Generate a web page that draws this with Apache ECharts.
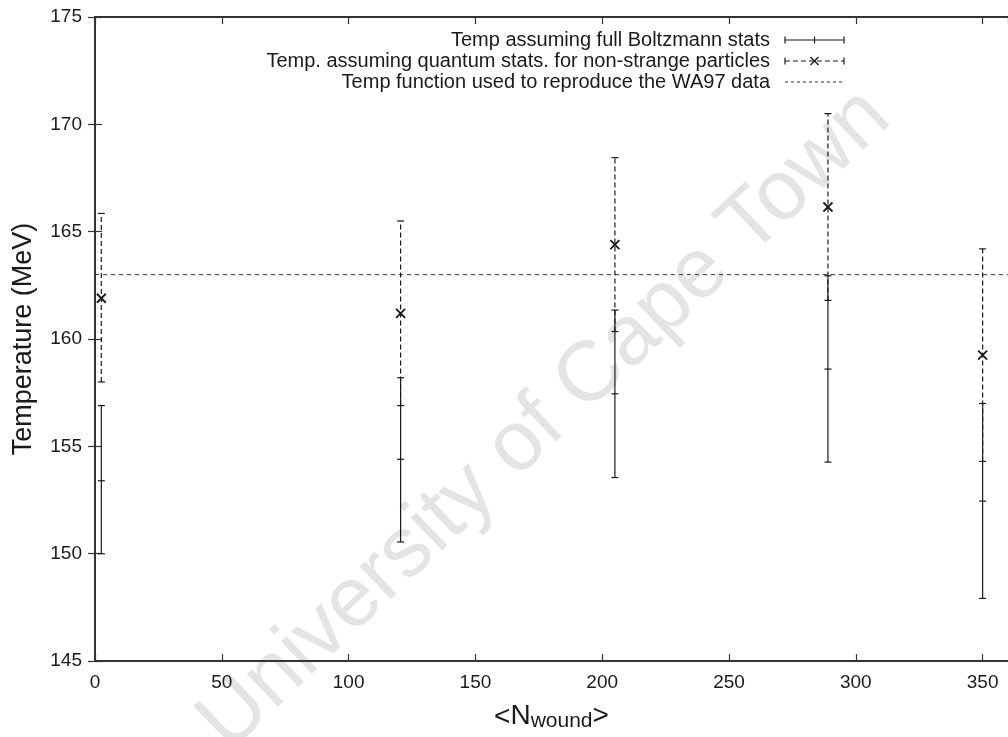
<!DOCTYPE html>
<html><head><meta charset="utf-8">
<script src="https://cdn.jsdelivr.net/npm/echarts@6/dist/echarts.min.js"></script>
<style>html,body{margin:0;padding:0;background:#fff}#c{width:1008px;height:737px}</style>
</head><body><div id="c"></div>
<script>
// ---- data ----
const nWound      = [2.5, 120.5, 205, 289, 350];
const boltzTemp   = [153.4, 154.4, 157.45, 158.6, 152.45];
const boltzLow    = [150.0, 150.55, 153.55, 154.27, 147.92];
const boltzHigh   = [156.9, 158.2, 161.35, 162.95, 157.0];
const quantTemp   = [161.9, 161.2, 164.4, 166.15, 159.25];
const quantLow    = [158.0, 156.9, 160.35, 161.8, 154.3];
const quantHigh   = [165.85, 165.5, 168.45, 170.5, 164.2];
const wa97X       = [0, 360];
const wa97Temp    = [163, 163];
const legendNames = [
  'Temp assuming full Boltzmann stats',
  'Temp. assuming quantum stats. for non-strange particles',
  'Temp function used to reproduce the WA97 data'
];
const xRange = [0, 360], xStep = 50;
const yRange = [145, 175], yStep = 5;

const FONT = '"Liberation Sans", Arial, Helvetica, sans-serif';
const INK = '#1a1a1a';

function errSeries(name, lo, hi, c, dashed, marker) {
  return {
    type: 'custom', name, xAxisIndex: 0, yAxisIndex: 0, z: 5,
    data: nWound.map((x, i) => [x, lo[i], hi[i], c[i]]),
    encode: { x: 0, y: [1, 2, 3] },
    renderItem: function (params, api) {
      const x = api.value(0);
      const pl = api.coord([x, api.value(1)]);
      const ph = api.coord([x, api.value(2)]);
      const pc = api.coord([x, api.value(3)]);
      const cw = 3.5;
      const s = { stroke: INK, lineWidth: 1.2 };
      const sd = dashed ? { stroke: INK, lineWidth: 1.2, lineDash: [5, 3] } : s;
      const ch = [
        { type: 'line', shape: { x1: pl[0], y1: pl[1], x2: ph[0], y2: ph[1] }, style: sd },
        { type: 'line', shape: { x1: pl[0] - cw, y1: pl[1], x2: pl[0] + cw, y2: pl[1] }, style: s },
        { type: 'line', shape: { x1: ph[0] - cw, y1: ph[1], x2: ph[0] + cw, y2: ph[1] }, style: s }
      ];
      if (marker === 'plus') {
        ch.push({ type: 'line', shape: { x1: pc[0] - cw, y1: pc[1], x2: pc[0] + cw, y2: pc[1] }, style: s });
      } else {
        const m = 4.5, sx = { stroke: INK, lineWidth: 1.8 };
        ch.push({ type: 'line', shape: { x1: pc[0] - m, y1: pc[1] - m, x2: pc[0] + m, y2: pc[1] + m }, style: sx });
        ch.push({ type: 'line', shape: { x1: pc[0] - m, y1: pc[1] + m, x2: pc[0] + m, y2: pc[1] - m }, style: sx });
      }
      return { type: 'group', children: ch };
    }
  };
}

const axisLine = { show: true, lineStyle: { color: '#333', width: 2 } };
const tickIn = { show: true, inside: true, length: 7, lineStyle: { color: '#333', width: 1.2 } };
const lblStyle = { color: INK, fontFamily: FONT, fontSize: 19 };

// legend layout
const lgRight = 770, lgY = [40, 61, 82], sx0 = 785, sx1 = 844;
const lgGraphics = [];
legendNames.forEach((t, i) => {
  lgGraphics.push({ type: 'text', x: lgRight, y: lgY[i], style: { text: t, fill: INK, font: '20px ' + FONT, textAlign: 'right', textVerticalAlign: 'middle' } });
});
const ls = { stroke: INK, lineWidth: 1.2 };
lgGraphics.push({ type: 'line', shape: { x1: sx0, y1: lgY[0], x2: sx1, y2: lgY[0] }, style: ls });
[sx0, (sx0 + sx1) / 2, sx1].forEach(x => lgGraphics.push({ type: 'line', shape: { x1: x, y1: lgY[0] - 3.5, x2: x, y2: lgY[0] + 3.5 }, style: ls }));
lgGraphics.push({ type: 'line', shape: { x1: sx0, y1: lgY[1], x2: sx1, y2: lgY[1] }, style: { stroke: INK, lineWidth: 1.2, lineDash: [5, 3] } });
[sx0, sx1].forEach(x => lgGraphics.push({ type: 'line', shape: { x1: x, y1: lgY[1] - 3.5, x2: x, y2: lgY[1] + 3.5 }, style: ls }));
{ const cx = (sx0 + sx1) / 2, cy = lgY[1], m = 4;
  lgGraphics.push({ type: 'line', shape: { x1: cx - m, y1: cy - m, x2: cx + m, y2: cy + m }, style: { stroke: INK, lineWidth: 1.5 } });
  lgGraphics.push({ type: 'line', shape: { x1: cx - m, y1: cy + m, x2: cx + m, y2: cy - m }, style: { stroke: INK, lineWidth: 1.5 } }); }
lgGraphics.push({ type: 'line', shape: { x1: sx0, y1: lgY[2], x2: sx1, y2: lgY[2] }, style: { stroke: '#333', lineWidth: 1, lineDash: [3, 3] } });

const chart = echarts.init(document.getElementById('c'), null, { renderer: 'canvas' });
chart.setOption({
  backgroundColor: '#fff',
  animation: false,
  grid: { left: 95, right: 0, top: 17, bottom: 74, containLabel: false },
  xAxis: [
    { type: 'value', position: 'bottom', min: xRange[0], max: xRange[1], interval: xStep,
      axisLine, axisTick: tickIn, splitLine: { show: false },
      axisLabel: Object.assign({ margin: 12, showMaxLabel: false, formatter: v => (v % xStep === 0 ? String(v) : '') }, lblStyle),
      name: '<{n|N}{s|wound}{n|>}', nameLocation: 'middle', nameGap: 29,
      nameTextStyle: { rich: {
        n: { fontFamily: FONT, fontSize: 28, color: INK, lineHeight: 30, verticalAlign: 'top' },
        s: { fontFamily: FONT, fontSize: 21, color: INK, lineHeight: 22, padding: [14, 0, 0, 0], verticalAlign: 'bottom' }
      }, fontFamily: FONT, fontSize: 28, color: INK }
    },
    { type: 'value', position: 'top', min: xRange[0], max: xRange[1], interval: xStep,
      axisLine, axisTick: tickIn, axisLabel: { show: false }, splitLine: { show: false } }
  ],
  yAxis: [
    { type: 'value', position: 'left', min: yRange[0], max: yRange[1], interval: yStep,
      axisLine, axisTick: tickIn, splitLine: { show: false },
      axisLabel: Object.assign({ margin: 13 }, lblStyle),
      name: 'Temperature (MeV)', nameLocation: 'middle', nameGap: 58,
      nameTextStyle: { fontFamily: FONT, fontSize: 27, color: INK } },
    { type: 'value', position: 'right', min: yRange[0], max: yRange[1], interval: yStep,
      axisLine, axisTick: tickIn, axisLabel: { show: false }, splitLine: { show: false } }
  ],
  graphic: [
    { type: 'text', x: 545, y: 420, rotation: 0.76, z: -10, silent: true,
      style: { text: 'University of Cape Town', fill: '#e4e4e4', font: '85px ' + FONT, textAlign: 'center', textVerticalAlign: 'middle' } }
  ].concat(lgGraphics),
  series: [
    { type: 'line', name: legendNames[2], xAxisIndex: 0, yAxisIndex: 0, z: 3,
      data: wa97X.map((x, i) => [x, wa97Temp[i]]), symbol: 'none',
      lineStyle: { color: '#333', width: 1, type: [4, 4] } },
    errSeries(legendNames[0], boltzLow, boltzHigh, boltzTemp, false, 'plus'),
    errSeries(legendNames[1], quantLow, quantHigh, quantTemp, true, 'cross')
  ]
});
</script>
</body></html>
